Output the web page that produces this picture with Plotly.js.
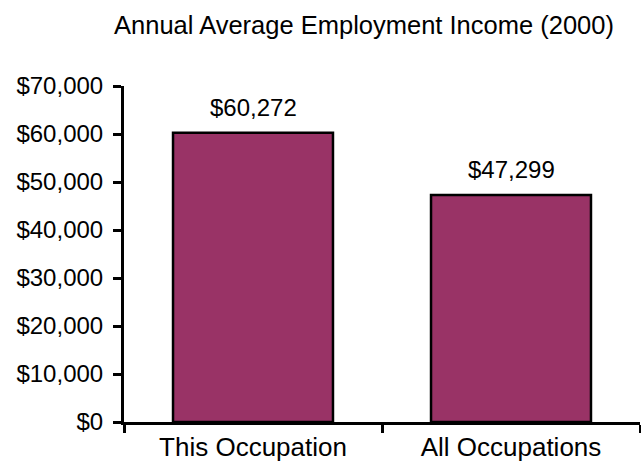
<!DOCTYPE html>
<html>
<head>
<meta charset="utf-8">
<script src="https://cdn.plot.ly/plotly-3.0.1.min.js"></script>
<style>html,body{margin:0;padding:0;background:#fff;}#chart{width:641px;height:475px;}</style>
</head>
<body>
<div id="chart"></div>
<script>
const categories = ["This Occupation", "All Occupations"];
const incomes = [60272, 47299];
const valueLabels = ["$60,272", "$47,299"];
const yTickValues = [0, 10000, 20000, 30000, 40000, 50000, 60000, 70000];
const yTickLabels = ["$0", "$10,000", "$20,000", "$30,000", "$40,000", "$50,000", "$60,000", "$70,000"];
const chartTitle = "Annual Average Employment Income (2000)";

const fontFamily = '"Liberation Sans", Arial, sans-serif';

const trace = {
  type: 'bar',
  x: categories,
  y: incomes,
  marker: {color: '#993366', line: {color: '#000000', width: 2.5}},
  hoverinfo: 'none'
};

const annotations = categories.map((c, i) => ({
  x: c, y: incomes[i], xref: 'x', yref: 'y',
  text: valueLabels[i], showarrow: false,
  yanchor: 'bottom', yshift: 10,
  font: {family: fontFamily, size: 24, color: '#000'}
}));

const layout = {
  width: 641, height: 475,
  margin: {l: 124, r: 1, t: 86, b: 53},
  paper_bgcolor: '#ffffff', plot_bgcolor: '#ffffff',
  showlegend: false,
  bargap: 0.38,
  font: {family: fontFamily, size: 24, color: '#000'},
  title: {
    text: chartTitle,
    font: {family: fontFamily, size: 25.5, color: '#000'},
    xref: 'container', x: 364/641, xanchor: 'center',
    yref: 'container', y: 1 - 25/475, yanchor: 'middle'
  },
  xaxis: {
    showline: true, linecolor: '#000', linewidth: 3,
    ticks: 'outside', tickson: 'boundaries', ticklen: 8, tickwidth: 3, tickcolor: '#000',
    showgrid: false, zeroline: false,
    tickfont: {family: fontFamily, size: 26, color: '#000'},
    fixedrange: true
  },
  yaxis: {
    range: [0, 70000],
    tickmode: 'array',
    tickvals: yTickValues,
    ticktext: yTickLabels,
    showline: true, linecolor: '#000', linewidth: 3,
    ticks: 'outside', ticklen: 8, tickwidth: 3, tickcolor: '#000',
    showgrid: false, zeroline: false,
    tickfont: {family: fontFamily, size: 24, color: '#000'},
    ticklabelstandoff: 5,
    fixedrange: true
  },
  annotations: annotations
};

Plotly.newPlot('chart', [trace], layout, {displayModeBar: false, staticPlot: true});
</script>
</body>
</html>
